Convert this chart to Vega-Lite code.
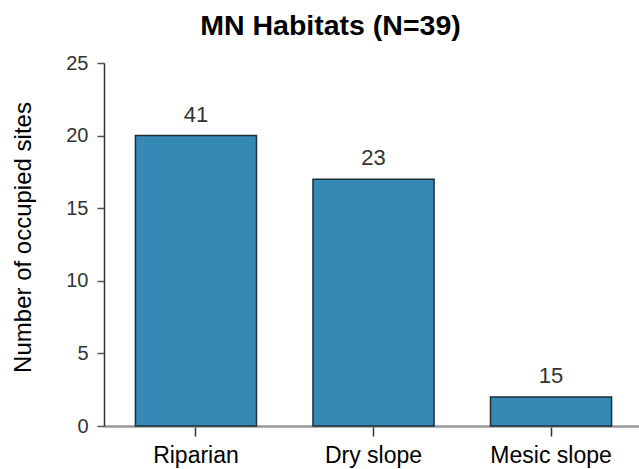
{
  "$schema": "https://vega.github.io/schema/vega-lite/v6.json",
  "autosize": {"type": "none"},
  "width": 539,
  "height": 363,
  "padding": {"left": 104, "top": 63, "right": 0, "bottom": 43},
  "background": "white",
  "title": {
    "text": "MN Habitats (N=39)",
    "font": "Liberation Sans",
    "fontSize": 28.5,
    "fontWeight": "bold",
    "color": "#000000",
    "anchor": "middle",
    "baseline": "alphabetic",
    "dx": -43,
    "offset": 20,
    "dy": 30
  },
  "data": {
    "values": [
      {"habitat": "Riparian", "sites": 20, "label": "41"},
      {"habitat": "Dry slope", "sites": 17, "label": "23"},
      {"habitat": "Mesic slope", "sites": 2, "label": "15"}
    ]
  },
  "config": {
    "view": {"stroke": null},
    "axis": {"grid": false}
  },
  "encoding": {
    "x": {
      "field": "habitat",
      "type": "nominal",
      "sort": null,
      "scale": {"paddingInner": 0.318, "paddingOuter": 0.177},
      "axis": {
        "title": null,
        "labelAngle": 0,
        "labelFont": "Liberation Sans",
        "labelFontSize": 23,
        "labelColor": "#000000",
        "labelPadding": 8,
        "tickSize": 10,
        "tickColor": "#333333",
        "tickWidth": 1.5,
        "domainColor": "#999999",
        "domainWidth": 2.5,
        "domainCap": "butt"
      }
    },
    "y": {
      "field": "sites",
      "type": "quantitative",
      "scale": {"domain": [0, 25]},
      "axis": {
        "title": "Number of occupied sites",
        "titleFont": "Liberation Sans",
        "titleFontSize": 24,
        "titleFontWeight": "normal",
        "titleColor": "#000000",
        "titleX": -81,
        "titleY": 174,
        "titleBaseline": "middle",
        "titleAnchor": "middle",
        "values": [0, 5, 10, 15, 20, 25],
        "labelFont": "Liberation Sans",
        "labelFontSize": 20,
        "labelColor": "#333333",
        "labelPadding": 9,
        "tickSize": 7,
        "tickColor": "#555555",
        "tickWidth": 1.5,
        "domainColor": "#333333",
        "domainWidth": 1.5
      }
    }
  },
  "layer": [
    {
      "mark": {"type": "bar", "color": "#3688b5", "stroke": "#1e2f3a", "strokeWidth": 1.5}
    },
    {
      "mark": {"type": "text", "baseline": "alphabetic", "dy": -14, "font": "Liberation Sans", "fontSize": 22, "color": "#333333"},
      "encoding": {"text": {"field": "label"}}
    }
  ]
}
